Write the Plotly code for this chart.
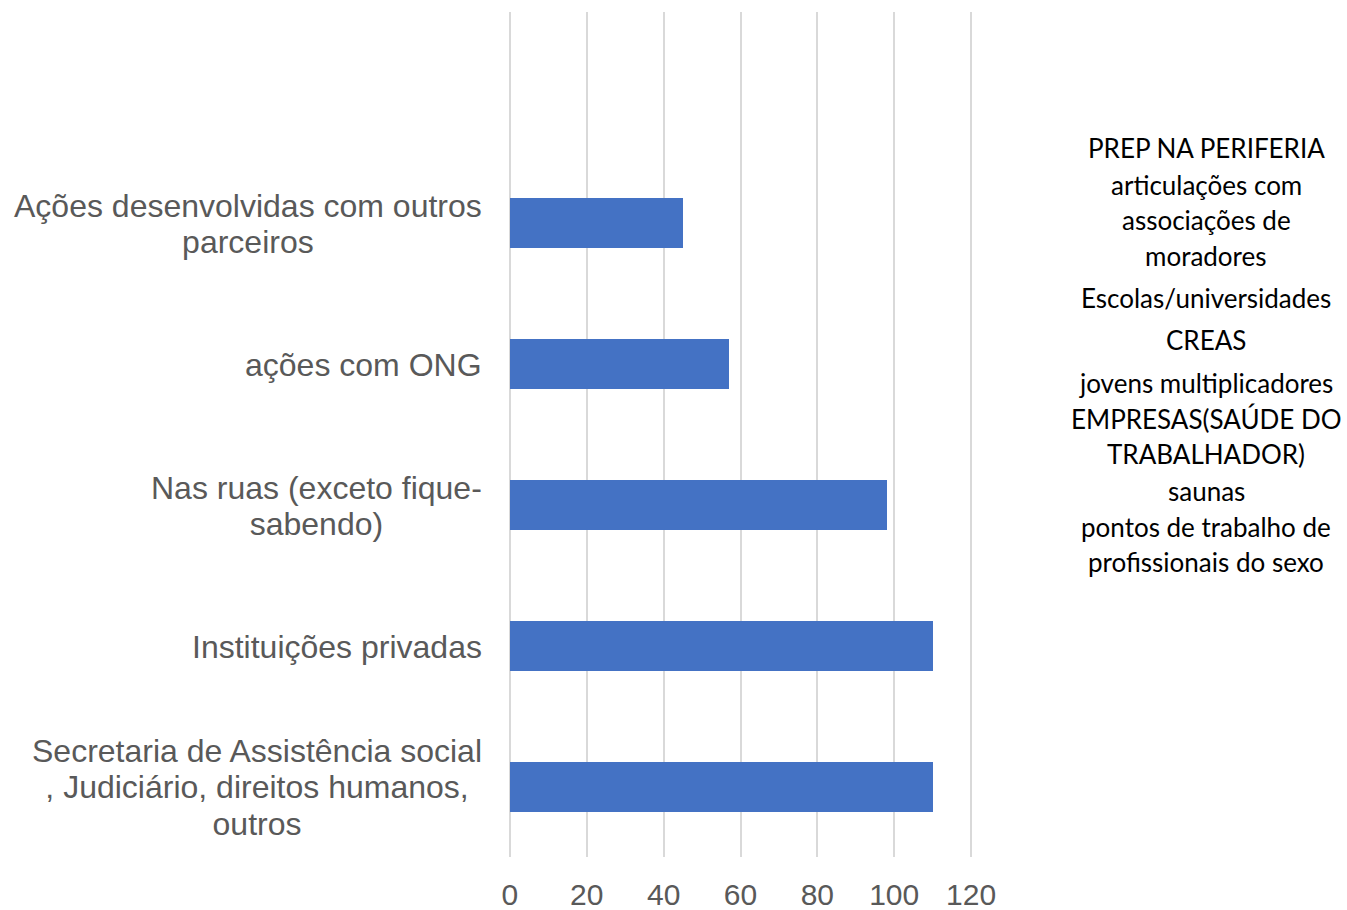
import plotly.graph_objects as go

categories = [
    "Secretaria de Assistência social<br>, Judiciário, direitos humanos,<br>outros",
    "Instituições privadas",
    "Nas ruas (exceto fique-<br>sabendo)",
    "ações com ONG",
    "Ações desenvolvidas com outros<br>parceiros",
]
values = [110, 110, 98, 57, 45]
x_ticks = [0, 20, 40, 60, 80, 100, 120]

side_lines = [
    "PREP NA PERIFERIA",
    "articulações com",
    "associações de",
    "moradores",
    "Escolas/universidades",
    "CREAS",
    "jovens multiplicadores",
    "EMPRESAS(SAÚDE DO",
    "TRABALHADOR)",
    "saunas",
    "pontos de trabalho de",
    "profissionais do sexo",
]
side_pixel_y = [148, 185, 220, 256, 298, 340, 383, 419, 454, 491, 527, 562]

W, H = 1347, 910
ML, MR, MT, MB = 508, 374, 12, 53
plot_h = H - MT - MB
plot_w = W - ML - MR

ypos = list(range(len(categories)))

fig = go.Figure(
    go.Bar(
        x=values,
        y=ypos,
        orientation="h",
        marker=dict(color="#4472C4", line=dict(width=0)),
        width=0.355,
        showlegend=False,
    )
)

annotations = []
for i, lab in enumerate(categories):
    styled = "<br>".join(
        '<span style="font-size:32px">' + part + "</span>" for part in lab.split("<br>")
    )
    annotations.append(
        dict(
            x=0, xref="paper", y=i, yref="y",
            text=styled, showarrow=False,
            xanchor="right", yanchor="middle", align="center",
            xshift=-24, yshift=-1,
            font=dict(family="Liberation Sans", size=28, color="#595959"),
        )
    )

for txt, py in zip(side_lines, side_pixel_y):
    annotations.append(
        dict(
            x=(1206 - ML) / plot_w, xref="paper",
            y=(H - MB - py) / plot_h, yref="paper",
            text=txt, showarrow=False,
            xanchor="center", yanchor="middle",
            font=dict(family="Lato", size=26, color="#000000"),
        )
    )

fig.update_layout(
    width=W, height=H,
    margin=dict(l=ML, r=MR, t=MT, b=MB, pad=0, autoexpand=False),
    paper_bgcolor="white", plot_bgcolor="white",
    font=dict(family="Liberation Sans"),
    bargap=0,
    annotations=annotations,
    xaxis=dict(
        range=[-0.5, 120.5], tickvals=x_ticks, ticktext=[str(t) for t in x_ticks],
        showgrid=True, gridcolor="#D9D9D9", gridwidth=1.5,
        zeroline=False, showline=False, ticks="",
        tickfont=dict(family="Liberation Sans", size=30, color="#595959"),
        ticklabelstandoff=17,
        automargin=False,
        fixedrange=True,
    ),
    yaxis=dict(
        range=[-0.5, 5.5], tickvals=[], showgrid=False, zeroline=False,
        showline=False, showticklabels=False, fixedrange=True, automargin=False,
    ),
)

fig.write_html(
    "out.html",
    config={"displayModeBar": False},
    post_script="document.body.style.margin='0';document.body.style.padding='0';document.body.style.overflow='hidden';",
)
